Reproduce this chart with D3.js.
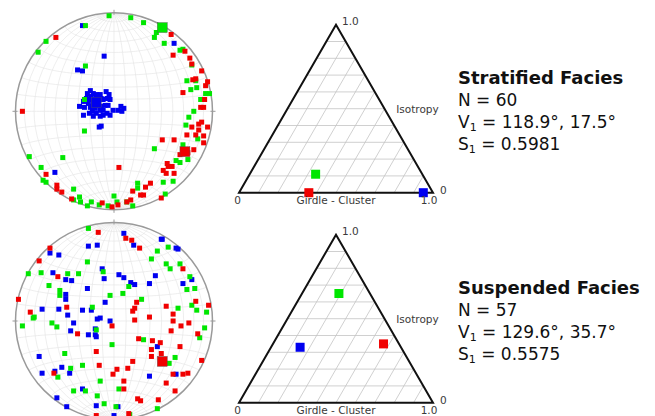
<!DOCTYPE html>
<html>
<head>
<meta charset="utf-8">
<script src="https://cdn.jsdelivr.net/npm/d3@7"></script>
<style>
  body { margin: 0; background: #fff; }
  svg { display: block; font-family: "DejaVu Sans", sans-serif; }
</style>
</head>
<body>
<script>
// stereonet points: [east, north] in % of the net radius
const stratRed = [[-59,75],[58,78],[60,57],[72,61],[77,54],[79,48],[89,41],[95,30],[80,32],[83,33],[70,19],[93,26],
  [92,12],[88,4],[91,4],[-93,0],[86,-13],[95,-16],[79,-16],[74,-24],[83,-24],[91,-25],[49,-29],[61,-29],[91,-32],
  [67,-44],[81,-39],[54,-53],[55,-56],[53,-63],[59,-56],[61,-63],[5,-57],[-69,-64],[-58,-75],[-58,-79],[-53,-82],
  [37,-73],[32,-77],[19,-81],[27,-85],[30,-85],[13,-92],[17,-90],[-12,-93],[-2,-97],[4,-95],[48,-88],[-43,-89],
  [75,-42],[70,-40],[50,-60],[86,-19],[89,-11]];
const stratGreen = [[-5,97],[17,95],[30,90],[43,80],[41,75],[51,69],[-29,87],[-69,71],[-77,60],[67,62],[70,63],
  [79,47],[-29,46],[74,31],[83,31],[78,22],[84,24],[93,18],[97,18],[88,12],[81,0],[76,-6],[73,-14],[-30,12],
  [-30,-20],[85,-28],[41,-38],[70,-34],[-86,-46],[-52,-47],[-74,-57],[-72,-70],[-69,-72],[63,-50],[67,-52],
  [75,-49],[60,-71],[50,-72],[24,-73],[24,-78],[-41,-79],[-35,-87],[-41,-90],[-34,-92],[-23,-92],[-27,-96],
  [-15,-95],[0,-86],[3,-92],[13,-92],[19,-96],[52,-84],[-6,-96]];
const stratBlue = [[-32,87],[61,69],[-10,56],[-37,42],[-32,41],[-60,-62],[-13,-15],[-15,-16],
  [-24,21],[-21,18],[-23,15],[-18,17],[-14,17],[-8,20],[-5,17],[-7,13],[-4,12],[-11,12],[-16,12],[-19,12],
  [-24,12],[-28,13],[-31,10],[-26,8],[-21,8],[-16,6],[-13,5],[-9,6],[-6,6],[-35,5],[-30,4],[-24,4],[-19,3],
  [-14,1],[-11,1],[-7,-2],[-4,-4],[-31,-4],[-25,-2],[-18,-2],[-14,-5],[-21,-5],[-11,-4],[-1,1],[4,1],[7,5],
  [10,3],[8,0],[-19,10],[-27,18],[-17,13],[-22,0],[-16,15],[-13,13],[-23,5]];
// mean vectors drawn as large squares: [east, north, colour index]
const stratMeans = [[-18,9,2],[72,-41,0],[49,85,1]];

const suspRed = [[-16,90],[12,84],[18,82],[26,74],[-65,74],[-76,61],[-57,45],[70,53],[-97,22],[23,19],[21,13],
  [19,10],[-85,9],[-48,14],[36,4],[53,15],[60,7],[60,0],[83,20],[96,16],[76,-2],[68,-5],[58,-10],[85,-13],
  [-37,-13],[-2,-5],[21,1],[25,-18],[39,-20],[47,-22],[38,-29],[67,-26],[48,-33],[-18,-31],[38,-36],[19,-41],
  [89,-40],[-15,-45],[3,-49],[-1,-54],[14,-48],[-61,-53],[60,-54],[70,-54],[75,-53],[53,-63],[10,-61],[10,-69],
  [62,-71],[24,-79],[27,-81],[45,-80],[15,-94],[-18,-96]];
const suspGreen = [[-26,94],[44,71],[55,75],[38,63],[-27,60],[53,58],[57,53],[67,58],[-87,48],[-74,49],[-47,48],
  [-36,48],[-66,36],[-55,31],[-55,26],[15,35],[9,28],[-4,26],[28,22],[-11,50],[77,45],[82,33],[74,32],[79,16],
  [84,11],[94,9],[65,13],[-22,14],[-82,3],[-81,4],[-93,-5],[-63,-2],[-58,-6],[-18,-9],[92,-7],[87,-17],[30,-19],
  [-2,-24],[62,-37],[56,-43],[-50,-33],[-32,-45],[-44,-48],[-57,-57],[-14,-61],[5,-69],[-41,-71],[-29,-71],
  [-17,-76],[-10,-84],[2,-87],[16,-95],[44,-89]];
const suspBlue = [[10,89],[48,83],[49,83],[63,74],[65,73],[20,77],[-26,76],[-17,77],[-65,69],[-56,67],[-12,53],
  [-10,43],[-62,49],[-49,42],[-43,41],[5,47],[10,44],[17,39],[21,37],[36,38],[42,46],[70,38],[79,42],[-27,33],
  [-49,27],[-49,22],[-9,19],[-73,12],[-56,12],[-32,11],[-23,11],[-47,6],[-17,2],[-14,3],[-4,0],[-41,-2],
  [-44,-10],[-26,-14],[-19,-8],[-19,-14],[-18,-16],[44,-26],[-76,-36],[-53,-47],[-60,-51],[-73,-53],[-45,-53],
  [36,-56],[63,-54],[-32,-69],[-58,-78],[-48,-87],[-18,-86],[4,-87],[0,-96]];
const suspMeans = [[49,-41,0]];

// Vollmer ternary: [cluster P, girdle G, isotropy R] for red, green, blue axes
const stratTernary = [[0.36,0.64,0.00],[0.34,0.55,0.11],[0.95,0.05,0.00]];
const suspTernary = [[0.57,0.08,0.35],[0.19,0.16,0.65],[0.15,0.52,0.33]];

const faciesNames = ["Stratified Facies", "Suspended Facies"];
const sampleCounts = [60, 57];
const v1Values = [["118.9", "17.5"], ["129.6", "35.7"]];
const s1Values = ["0.5981", "0.5575"];
const gridSteps = d3.range(0.1, 0.95, 0.1);
const axisColors = ["#f00000", "#00e600", "#0000f0"];

const W = 655, H = 416;
const netX = 114, netR = 98.5;
const triLeft = 239, triRight = 433, triH = 168;

const panels = [
  { cy: 111.3, red: stratRed, green: stratGreen, blue: stratBlue, means: stratMeans, tern: stratTernary, base: 192.7, textY: 84 },
  { cy: 321, red: suspRed, green: suspGreen, blue: suspBlue, means: suspMeans, tern: suspTernary, base: 402.7, textY: 294 }
];

const svg = d3.select("body").append("svg")
  .attr("width", W).attr("height", H);

panels.forEach((p, i) => {
  // ---- stereonet
  const x = d3.scaleLinear().domain([-100, 100]).range([netX - netR, netX + netR]);
  const y = d3.scaleLinear().domain([-100, 100]).range([p.cy + netR, p.cy - netR]);

  const proj = d3.geoAzimuthalEqualArea()
    .rotate([0, 0])
    .scale(netR / Math.SQRT2)
    .translate([netX, p.cy])
    .clipAngle(90)
    .precision(0.2);
  const geo = d3.geoPath(proj);

  svg.append("clipPath").attr("id", "net" + i)
    .append("circle").attr("cx", netX).attr("cy", p.cy).attr("r", netR);

  const net = svg.append("g");
  net.append("path")
    .datum(d3.geoGraticule().extent([[-180, -90], [180, 90]]).step([10, 10])())
    .attr("d", geo)
    .attr("clip-path", `url(#net${i})`)
    .attr("fill", "none")
    .attr("stroke", "#e6e6e6")
    .attr("stroke-width", 0.7);

  net.append("circle")
    .attr("cx", netX).attr("cy", p.cy).attr("r", netR)
    .attr("fill", "none").attr("stroke", "#9a9a9a").attr("stroke-width", 1.5);

  // N E S W ticks
  net.selectAll("line.tick").data([0, 90, 180, 270]).join("line")
    .attr("x1", a => netX + (netR - 2) * Math.sin(a * Math.PI / 180))
    .attr("y1", a => p.cy - (netR - 2) * Math.cos(a * Math.PI / 180))
    .attr("x2", a => netX + (netR + 3) * Math.sin(a * Math.PI / 180))
    .attr("y2", a => p.cy - (netR + 3) * Math.cos(a * Math.PI / 180))
    .attr("stroke", "#9a9a9a").attr("stroke-width", 1);

  const sz = 5;
  [[p.blue, 2], [p.green, 1], [p.red, 0]].forEach(([pts, c]) => {
    net.append("g").selectAll("rect").data(pts).join("rect")
      .attr("x", d => x(d[0]) - sz / 2)
      .attr("y", d => y(d[1]) - sz / 2)
      .attr("width", sz).attr("height", sz)
      .attr("fill", axisColors[c]);
  });

  const big = 10;
  net.append("g").selectAll("rect").data(p.means).join("rect")
    .attr("x", d => x(d[0]) - big / 2)
    .attr("y", d => y(d[1]) - big / 2)
    .attr("width", big).attr("height", big)
    .attr("fill", d => axisColors[d[2]])
    .attr("stroke", "#555").attr("stroke-width", 0.4);

  // ---- ternary diagram
  const tx = d3.scaleLinear().domain([0, 1]).range([triLeft, triRight]);
  const ty = d3.scaleLinear().domain([0, 1]).range([p.base, p.base - triH]);
  const pt = (P, R) => [tx(P + R / 2), ty(R)];

  const tern = svg.append("g");
  const line = d3.line();
  // horizontal lines (constant isotropy)
  tern.selectAll("path.h").data(gridSteps).join("path")
    .attr("d", r => line([pt(0, r), pt(1 - r, r)]))
    .attr("stroke", "#c4c4c4").attr("stroke-width", 0.8).attr("fill", "none");
  // lines of constant cluster value
  tern.selectAll("path.d").data(gridSteps).join("path")
    .attr("d", c => line([pt(c, 0), pt(c, 1 - c)]))
    .attr("stroke", "#c4c4c4").attr("stroke-width", 0.8).attr("fill", "none");

  tern.append("path")
    .attr("d", line([pt(0, 0), pt(1, 0), pt(0, 1)]) + "Z")
    .attr("fill", "none").attr("stroke", "#111").attr("stroke-width", 2)
    .attr("stroke-linejoin", "miter");

  const ts = 9;
  tern.selectAll("rect").data(p.tern).join("rect")
    .attr("x", d => pt(d[0], d[2])[0] - ts / 2)
    .attr("y", d => pt(d[0], d[2])[1] - ts / 2)
    .attr("width", ts).attr("height", ts)
    .attr("fill", (d, k) => axisColors[k]);

  const lab = (t, xx, yy, anchor) => tern.append("text")
    .attr("x", xx).attr("y", yy).attr("text-anchor", anchor || "start")
    .attr("font-size", 10.5).attr("fill", "#3a3a3a").text(t);
  const apex = pt(0, 1);
  lab("1.0", apex[0] + 6, apex[1] + 0.5);
  lab("Isotropy", tx(0.8) + 2, ty(0.5) + 4);
  lab("0", tx(1) + 7, p.base + 1);
  lab("0", tx(0) - 1.5, p.base + 11, "middle");
  lab("1.0", tx(1) - 4, p.base + 11, "middle");
  lab("Girdle - Cluster", tx(0.5), p.base + 11, "middle");

  // ---- text block
  const tb = svg.append("g").attr("transform", `translate(458,${p.textY})`)
    .attr("fill", "#111").attr("font-size", 17);
  tb.append("text").attr("font-weight", "bold").attr("font-size", 18).text(faciesNames[i]);
  tb.append("text").attr("y", 22).text(`N = ${sampleCounts[i]}`);
  const v = tb.append("text").attr("y", 44);
  v.append("tspan").text("V");
  v.append("tspan").attr("font-size", 11).attr("dy", 3).text("1");
  v.append("tspan").attr("dy", -3).text(` = ${v1Values[i][0]}°, ${v1Values[i][1]}°`);
  const s = tb.append("text").attr("y", 66);
  s.append("tspan").text("S");
  s.append("tspan").attr("font-size", 11).attr("dy", 3).text("1");
  s.append("tspan").attr("dy", -3).text(` = ${s1Values[i]}`);
});
</script>
</body>
</html>
